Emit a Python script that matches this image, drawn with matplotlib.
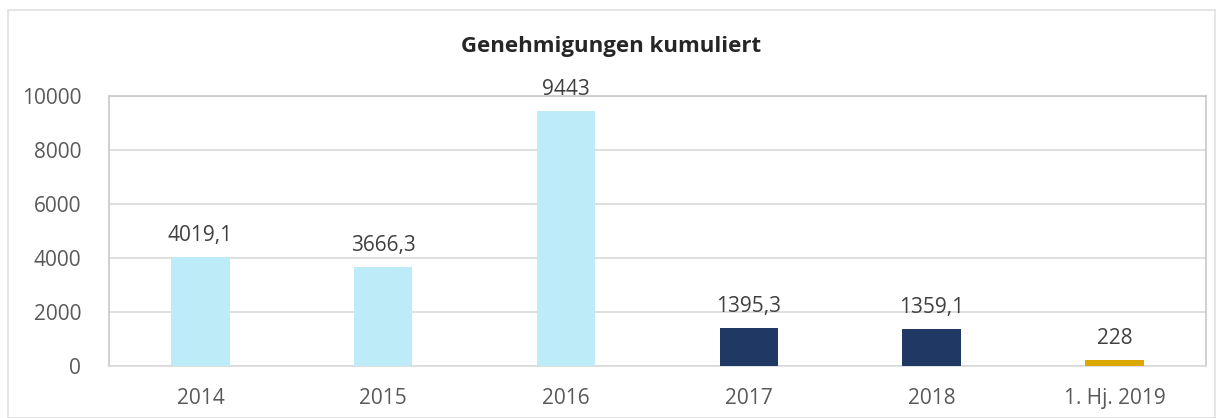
import matplotlib.pyplot as plt
from matplotlib.patches import Rectangle

plt.rcParams['font.family'] = ['Open Sans', 'DejaVu Sans']

categories = ['2014', '2015', '2016', '2017', '2018', '1. Hj. 2019']
values = [4019.1, 3666.3, 9443, 1395.3, 1359.1, 228]
labels = ['4019,1', '3666,3', '9443', '1395,3', '1359,1', '228']
colors = ['#BDEBF8', '#BDEBF8', '#BDEBF8', '#203864', '#203864', '#DDA800']

fig = plt.figure(figsize=(12.23, 4.18), dpi=100)
ax = fig.add_axes([0.0891, 0.1244, 0.8970, 0.6459])

x = range(len(categories))
ax.bar(x, values, width=0.32, color=colors, zorder=3)
for i, (v, lab) in enumerate(zip(values, labels)):
    ax.text(i, v + 420, lab, ha='center', va='bottom', fontsize=15, color='#404040')

ax.set_xlim(-0.5, len(categories) - 0.5)
ax.set_ylim(0, 10000)
ax.set_yticks(range(0, 10001, 2000))
ax.set_xticks(list(x))
ax.set_xticklabels(categories)
ax.tick_params(axis='both', length=0, labelsize=15, colors='#595959')
ax.tick_params(axis='y', pad=20)
ax.tick_params(axis='x', pad=16)
ax.grid(axis='y', color='#D9D9D9', linewidth=1.2, zorder=0)
for s in ax.spines.values():
    s.set_color('#C8C8C8')
    s.set_linewidth(1.2)
ax.spines['bottom'].set_color('#D9D9D9')

fig.text(0.5, 0.888, 'Genehmigungen kumuliert', ha='center', va='center',
         fontsize=16, fontweight='bold', color='#262626')

fig.patches.append(Rectangle((8 / 1223, 0), 1 - 16 / 1223, 1 - 10 / 418,
                             transform=fig.transFigure, fill=False,
                             edgecolor='#E0E0E0', linewidth=1.2))

fig.savefig('out.png')
